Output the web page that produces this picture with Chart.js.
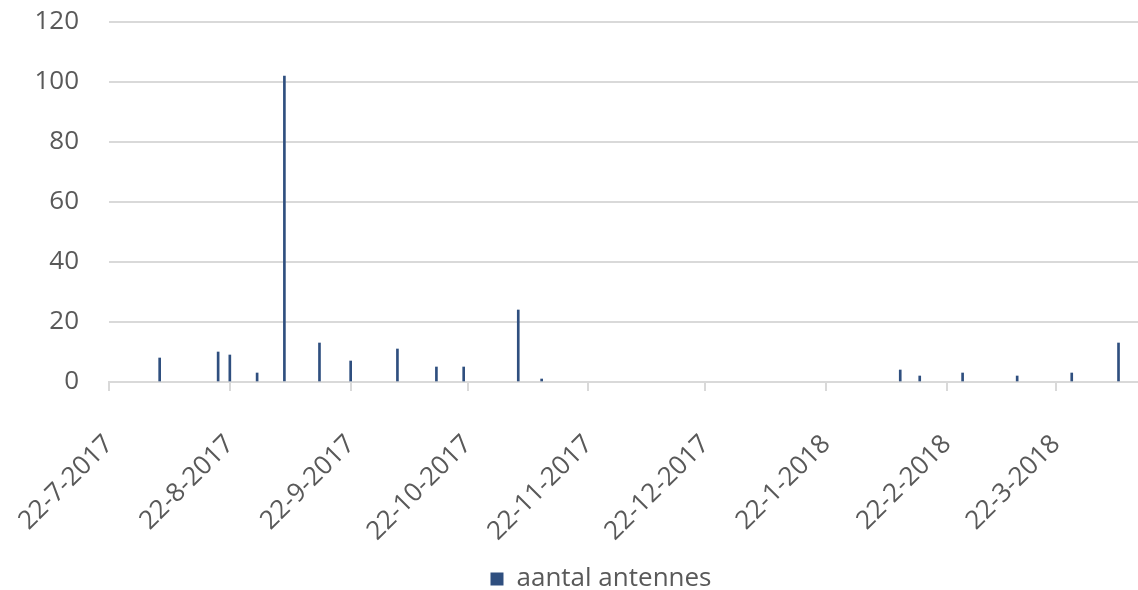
<!DOCTYPE html>
<html>
<head>
<meta charset="utf-8">
<title>aantal antennes</title>
<script src="https://cdn.jsdelivr.net/npm/chart.js@4.4.1/dist/chart.umd.min.js"></script>
<style>
    html, body { margin: 0; padding: 0; background: #ffffff; }
    #wrap { width: 1138px; height: 590px; position: relative; }
</style>
</head>
<body>
<div id="wrap"><canvas id="chart"></canvas></div>
<script>
// Data
const startDate = '2017-07-22';
const endDate = '2018-04-12';
const dates = [
    '2017-08-04', '2017-08-19', '2017-08-22', '2017-08-29', '2017-09-05',
    '2017-09-14', '2017-09-22', '2017-10-04', '2017-10-14', '2017-10-21',
    '2017-11-04', '2017-11-10', '2018-02-10', '2018-02-15', '2018-02-26',
    '2018-03-12', '2018-03-26', '2018-04-07'
];
const antennes = [8, 10, 9, 3, 102, 13, 7, 11, 5, 5, 24, 1, 4, 2, 3, 2, 3, 13];
const tickDates = [
    '2017-07-22', '2017-08-22', '2017-09-22', '2017-10-22', '2017-11-22',
    '2017-12-22', '2018-01-22', '2018-02-22', '2018-03-22'
];
const tickLabels = [
    '22-7-2017', '22-8-2017', '22-9-2017', '22-10-2017', '22-11-2017',
    '22-12-2017', '22-1-2018', '22-2-2018', '22-3-2018'
];
const seriesName = 'aantal antennes';

// days since the start of the axis (no date adapter here, so a linear axis)
function dayOf(str) {
    const [y, m, d] = str.split('-').map(Number);
    const [y0, m0, d0] = startDate.split('-').map(Number);
    return Math.round((Date.UTC(y, m - 1, d) - Date.UTC(y0, m0 - 1, d0)) / 86400000);
}

const textColor = '#595959';
const gridColor = '#d9d9d9';
const barColor = '#2f4f7f';

Chart.defaults.font.family = "'Open Sans', Lato, sans-serif";
Chart.defaults.font.size = 26;
Chart.defaults.color = textColor;

const tickDays = tickDates.map(dayOf);

// move the legend a bit, Excel puts it lower and right of center
const legendShift = {
    id: 'legendShift',
    afterLayout(chart) {
        const lg = chart.legend;
        if (!lg) return;
        const dy = 583 - (lg.top + lg.bottom) / 2;
        const dx = 32;
        lg.top += dy; lg.bottom += dy;
        lg.left += dx; lg.right += dx;
    }
};

new Chart(document.getElementById('chart').getContext('2d'), {
    type: 'bar',
    data: {
        datasets: [{
            label: seriesName,
            data: dates.map((d, i) => ({ x: dayOf(d), y: antennes[i] })),
            backgroundColor: barColor,
            borderWidth: 0,
            barThickness: 2
        }]
    },
    options: {
        responsive: true,
        maintainAspectRatio: false,
        animation: false,
        layout: { padding: 0 },
        plugins: {
            legend: {
                position: 'bottom',
                labels: {
                    boxWidth: 13,
                    boxHeight: 13,
                    padding: 2,
                    color: textColor,
                    font: { size: 26 }
                }
            },
            tooltip: { enabled: false }
        },
        scales: {
            x: {
                type: 'linear',
                min: 0,
                max: dayOf(endDate),
                offset: false,
                afterBuildTicks: scale => {
                    scale.ticks = tickDays.map(v => ({ value: v }));
                },
                afterFit: scale => {
                    scale.height = 170;
                    scale.paddingLeft = 0;
                    scale.paddingRight = 0;
                },
                ticks: {
                    autoSkip: false,
                    maxRotation: 45,
                    minRotation: 45,
                    padding: 38,
                    color: textColor,
                    font: { size: 26 },
                    callback: value => tickLabels[tickDays.indexOf(value)]
                },
                grid: {
                    offset: false,
                    drawOnChartArea: false,
                    drawTicks: true,
                    tickLength: 9,
                    color: gridColor,
                    lineWidth: 2
                },
                border: { color: gridColor, width: 2 }
            },
            y: {
                min: 0,
                max: 120,
                afterFit: scale => {
                    scale.width = 109;
                    scale.paddingTop = 22;
                    scale.paddingBottom = 0;
                },
                ticks: {
                    stepSize: 20,
                    padding: 30,
                    color: textColor,
                    font: { size: 26 }
                },
                grid: {
                    color: gridColor,
                    lineWidth: 2,
                    drawTicks: false
                },
                border: { display: false }
            }
        }
    },
    plugins: [legendShift]
});
</script>
</body>
</html>
